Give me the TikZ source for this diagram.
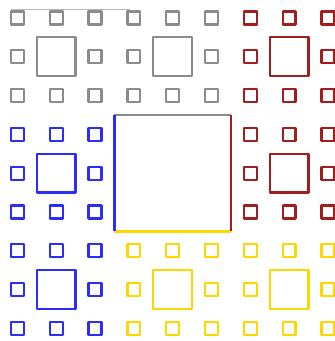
\documentclass[tikz,border=0pt]{standalone}
\usepackage{tikz}
\usepackage{xcolor}
\usetikzlibrary{calc}

\definecolor{cgray}{RGB}{140,140,140}
\definecolor{cred}{RGB}{160,30,30}
\definecolor{cblue}{RGB}{45,45,250}
\definecolor{cyellow}{RGB}{255,215,0}

\begin{document}
\begin{tikzpicture}[x=0.3cm, y=-0.3cm, line width=1.5pt, line join=round]
  % Frame of the picture (carpet is cut at right and bottom)
  \useasboundingbox (0.155,0.116) rectangle (26.04,26.47);
  \clip (0.155,0.116) rectangle (26.04,26.47);
  % Thin line at the top
  \draw[cgray!60, line width=0.6pt] (1.0,0.81) -- (10.2,0.81);
  % Blocks round the centre: middle square and eight small ones
  \foreach \bx/\by/\col in {0/0/cgray, 1/0/cgray, 2/0/cred, 2/1/cred,
                            2/2/cyellow, 1/2/cyellow, 0/2/cblue, 0/1/cblue} {
    \draw[\col] ({9*\bx+3},{9*\by+3}) rectangle ++(3,3);
    \foreach \i/\j in {0/0,1/0,2/0,0/1,2/1,0/2,1/2,2/2}
      \draw[\col] ({9*\bx+3*\i+1},{9*\by+3*\j+1}) rectangle ++(1,1);
  }
  % Centre square, one colour per side
  \draw[cgray] (9,9) -- (18,9);
  \draw[cyellow] (9,18) -- (18,18);
  \draw[cblue] (9,9) -- (9,18);
  \draw[cred] (18,9) -- (18,18);
\end{tikzpicture}
\end{document}
